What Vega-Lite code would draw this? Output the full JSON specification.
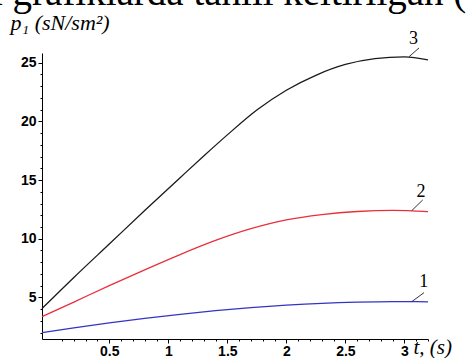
{
  "$schema": "https://vega.github.io/schema/vega-lite/v6.json",
  "width": 386,
  "height": 286,
  "autosize": {"type": "none"},
  "padding": {"left": 42, "top": 53, "right": 40, "bottom": 19},
  "background": "white",
  "title": {
    "text": "i grafiklarda tahlil keltirilgan (",
    "anchor": "start",
    "frame": "group",
    "font": "Liberation Serif",
    "fontSize": 39,
    "fontWeight": "normal",
    "color": "black",
    "baseline": "alphabetic",
    "dx": -50,
    "dy": 33,
    "offset": 0
  },
  "config": {
    "view": {"stroke": null},
    "axis": {
      "grid": false,
      "domainColor": "black",
      "tickColor": "black",
      "labelColor": "black",
      "labelFont": "Liberation Sans",
      "labelFontWeight": "bold",
      "labelFontSize": 14,
      "titleColor": "black",
      "titleFont": "Liberation Serif",
      "titleFontStyle": "italic",
      "titleFontWeight": "normal",
      "titleFontSize": 21
    }
  },
  "datasets": {
    "curves": [
      {"t": -0.07, "p": 4.05, "s": "3"},
      {"t": 0.2, "p": 6.7, "s": "3"},
      {"t": 0.5, "p": 9.55, "s": "3"},
      {"t": 0.8, "p": 12.4, "s": "3"},
      {"t": 1.1, "p": 15.2, "s": "3"},
      {"t": 1.3, "p": 17.05, "s": "3"},
      {"t": 1.5, "p": 18.85, "s": "3"},
      {"t": 1.75, "p": 20.97, "s": "3"},
      {"t": 2.0, "p": 22.66, "s": "3"},
      {"t": 2.25, "p": 23.93, "s": "3"},
      {"t": 2.5, "p": 24.85, "s": "3"},
      {"t": 2.75, "p": 25.35, "s": "3"},
      {"t": 3.0, "p": 25.5, "s": "3"},
      {"t": 3.2, "p": 25.25, "s": "3"},
      {"t": -0.07, "p": 3.35, "s": "2"},
      {"t": 0.2, "p": 4.6, "s": "2"},
      {"t": 0.5, "p": 6.0, "s": "2"},
      {"t": 0.8, "p": 7.35, "s": "2"},
      {"t": 1.1, "p": 8.65, "s": "2"},
      {"t": 1.4, "p": 9.85, "s": "2"},
      {"t": 1.7, "p": 10.85, "s": "2"},
      {"t": 2.0, "p": 11.6, "s": "2"},
      {"t": 2.3, "p": 12.05, "s": "2"},
      {"t": 2.6, "p": 12.32, "s": "2"},
      {"t": 2.9, "p": 12.42, "s": "2"},
      {"t": 3.2, "p": 12.3, "s": "2"},
      {"t": -0.07, "p": 1.99, "s": "1"},
      {"t": 0.2, "p": 2.4, "s": "1"},
      {"t": 0.5, "p": 2.82, "s": "1"},
      {"t": 0.8, "p": 3.2, "s": "1"},
      {"t": 1.1, "p": 3.55, "s": "1"},
      {"t": 1.4, "p": 3.86, "s": "1"},
      {"t": 1.7, "p": 4.12, "s": "1"},
      {"t": 2.0, "p": 4.33, "s": "1"},
      {"t": 2.3, "p": 4.49, "s": "1"},
      {"t": 2.6, "p": 4.59, "s": "1"},
      {"t": 2.9, "p": 4.64, "s": "1"},
      {"t": 3.2, "p": 4.62, "s": "1"}
    ],
    "labels": [
      {"s": "3", "t": 3.077, "p": 27.02, "t1": 3.039, "p1": 25.51, "t2": 3.124, "p2": 26.26},
      {"s": "2", "t": 3.141, "p": 13.94, "t1": 3.062, "p1": 12.39, "t2": 3.155, "p2": 13.3},
      {"s": "1", "t": 3.164, "p": 6.31, "t1": 3.062, "p1": 4.63, "t2": 3.166, "p2": 5.4}
    ]
  },
  "layer": [
    {
      "data": {"name": "curves"},
      "mark": {"type": "line", "strokeWidth": 1.3, "interpolate": "monotone"},
      "encoding": {
        "x": {
          "field": "t",
          "type": "quantitative",
          "scale": {"domain": [-0.07, 3.2], "nice": false, "zero": false},
          "axis": {
            "grid": false,
            "title": "t,  (s)",
            "titleAlign": "left",
            "titleBaseline": "alphabetic",
            "titleAnchor": "start",
            "titleAngle": 0,
            "titleX": 371,
            "titleY": 14,
            "tickCount": 200,
            "values": [0.1, 0.2, 0.3, 0.4, 0.5, 0.6, 0.7, 0.8, 0.9, 1, 1.1, 1.2, 1.3, 1.4, 1.5, 1.6, 1.7, 1.8, 1.9, 2, 2.1, 2.2, 2.3, 2.4, 2.5, 2.6, 2.7, 2.8, 2.9, 3, 3.1, 3.2],
            "labelExpr": "abs(datum.value*2 - round(datum.value*2)) < 0.001 ? format(datum.value, '~g') : ''",
            "tickSize": {"condition": {"test": "abs(datum.value*2 - round(datum.value*2)) < 0.001", "value": 4}, "value": 2},
            "labelOverlap": false,
            "labelBound": false,
            "labelFlush": false,
            "labelPadding": 1
          }
        },
        "y": {
          "field": "p",
          "type": "quantitative",
          "scale": {"domain": [1.45, 25.83], "nice": false, "zero": false},
          "axis": {
            "grid": false,
            "title": "p₁ (sN/sm²)",
            "titleFontSize": 22,
            "titleAngle": 0,
            "titleAlign": "left",
            "titleBaseline": "alphabetic",
            "titleAnchor": "start",
            "titleX": -32,
            "titleY": -24,
            "tickCount": 200,
            "values": [2, 3, 4, 5, 6, 7, 8, 9, 10, 11, 12, 13, 14, 15, 16, 17, 18, 19, 20, 21, 22, 23, 24, 25],
            "labelExpr": "datum.value % 5 === 0 ? format(datum.value, 'd') : ''",
            "tickSize": {"condition": {"test": "datum.value % 5 === 0", "value": 4}, "value": 2},
            "labelOverlap": false,
            "labelBound": false,
            "labelFlush": false,
            "labelPadding": 2
          }
        },
        "color": {
          "field": "s",
          "type": "nominal",
          "scale": {"domain": ["1", "2", "3"], "range": ["#3434c4", "#e8303a", "#1a1a1a"]},
          "legend": null
        }
      }
    },
    {
      "data": {"name": "labels"},
      "mark": {"type": "rule", "color": "#333", "strokeWidth": 1},
      "encoding": {
        "x": {"field": "t1", "type": "quantitative"},
        "y": {"field": "p1", "type": "quantitative"},
        "x2": {"field": "t2"},
        "y2": {"field": "p2"}
      }
    },
    {
      "data": {"name": "labels"},
      "mark": {"type": "text", "font": "Liberation Serif", "fontSize": 18, "color": "black", "baseline": "middle", "align": "center"},
      "encoding": {
        "x": {"field": "t", "type": "quantitative"},
        "y": {"field": "p", "type": "quantitative"},
        "text": {"field": "s"}
      }
    }
  ]
}
